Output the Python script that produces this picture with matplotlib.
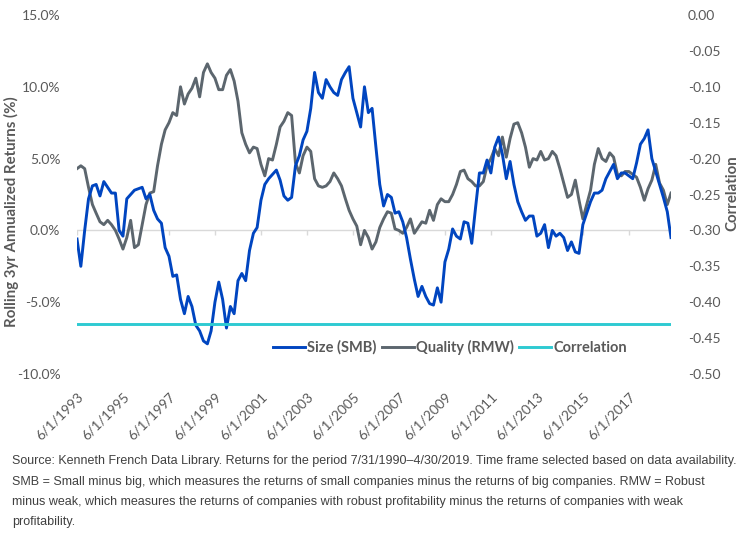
import matplotlib

matplotlib.use("Agg")
import matplotlib.pyplot as plt
import pandas as pd
from matplotlib.ticker import FuncFormatter

plt.rcParams["font.family"] = ["Lato", "DejaVu Sans"]
plt.rcParams["axes.unicode_minus"] = False

# rolling 3yr annualized returns (%), sampled every 2 months, 6/1993 - 4/2019
smb = [-0.6, -2.5, 0.0, 2.2, 3.1, 3.2, 2.4, 3.4, 3.0, 2.6,
       2.6, 0.0, -0.4, 2.2, 2.5, 2.8, 2.9, 3.0, 2.2, 2.5,
       1.4, 0.8, 0.5, -1.2, -1.8, -3.2, -3.1, -4.8, -5.8, -4.6,
       -5.3, -6.6, -7.0, -7.7, -7.9, -7.0, -5.0, -3.6, -4.8, -6.8,
       -5.3, -5.8, -3.5, -3.0, -3.5, -1.4, -0.2, 0.2, 2.1, 3.2,
       3.6, 3.9, 4.2, 3.5, 2.4, 2.1, 2.3, 4.5, 5.2, 6.3,
       6.9, 8.5, 11.0, 9.6, 9.2, 10.5, 10.0, 9.6, 9.4, 10.5,
       11.0, 11.4, 9.2, 8.2, 7.2, 10.0, 8.2, 8.5, 5.8, 3.2,
       1.7, 2.5, 2.3, 1.2, 1.3, 0.6, -0.5, -2.0, -3.4, -4.6,
       -3.9, -4.6, -5.1, -5.2, -4.0, -5.0, -2.2, -1.3, 0.1, -0.4,
       -0.6, 0.6, 0.5, -0.9, 1.6, 4.0, 4.0, 4.9, 4.0, 5.8,
       6.5, 5.3, 3.6, 4.8, 3.2, 2.0, 1.3, 0.7, 1.0, 1.0,
       -0.4, -0.2, 0.4, -1.2, 0.0, -0.4, -0.2, -0.5, -1.4, -0.8,
       -1.5, -1.6, 0.4, 1.2, 2.0, 2.6, 2.6, 2.8, 3.6, 4.1,
       4.6, 3.6, 4.0, 4.0, 3.8, 3.6, 4.7, 6.0, 6.4, 7.0,
       5.0, 4.1, 3.2, 2.3, 1.3, -0.5]
rmw = [4.3, 4.5, 4.3, 3.0, 1.8, 1.2, 0.6, 0.4, 0.7, 0.4,
       0.0, -0.6, -1.3, -0.5, 0.7, -1.2, -1.0, 0.4, 1.8, 2.6,
       2.7, 4.5, 6.0, 7.0, 7.5, 8.2, 8.0, 10.0, 8.8, 9.5,
       9.9, 10.6, 9.3, 11.0, 11.6, 11.0, 10.6, 9.8, 9.8, 10.8,
       11.2, 10.4, 9.0, 6.8, 6.0, 5.4, 5.8, 5.7, 4.6, 3.8,
       5.0, 4.9, 6.0, 7.2, 7.6, 8.2, 8.0, 4.7, 4.0, 5.2,
       5.8, 5.5, 3.6, 3.1, 3.0, 3.1, 3.4, 4.0, 3.6, 3.1,
       2.2, 1.4, 0.8, 0.3, -1.0, 0.0, -0.5, -1.3, -0.8, 0.2,
       0.8, 1.3, 1.2, 0.1, 0.0, -0.2, 0.2, 0.8, -0.2, 0.2,
       0.6, 0.5, 1.4, 0.7, 1.8, 2.2, 2.0, 2.0, 2.5, 3.2,
       4.1, 4.2, 3.6, 3.4, 3.1, 3.1, 3.4, 4.5, 5.0, 5.7,
       5.2, 6.5, 5.1, 6.4, 7.4, 7.5, 6.8, 5.8, 4.4, 5.0,
       4.9, 5.5, 4.9, 5.0, 5.5, 5.2, 4.3, 3.3, 2.3, 2.5,
       3.5, 2.1, 0.8, 1.8, 2.8, 4.6, 5.7, 5.0, 4.8, 5.4,
       5.1, 3.9, 3.8, 4.1, 4.1, 3.9, 3.7, 3.0, 2.1, 2.9,
       3.5, 4.6, 3.3, 2.8, 1.8, 2.6]
corr = -0.43  # full-period correlation SMB vs RMW

dates = pd.date_range("1993-06-01", periods=len(smb), freq="2MS")
tick_dates = pd.date_range("1993-06-01", "2017-06-01", freq="24MS")
tick_labels = [f"{d.month}/{d.day}/{d.year}" for d in tick_dates]

BLUE = "#0045C0"
GREY = "#5C666E"
CYAN = "#2ECAD2"
TXT = "#595959"

fig = plt.figure(figsize=(7.44, 5.44), dpi=100)
ax = fig.add_axes([77 / 744, 1 - 374 / 544, 594 / 744, 359 / 544])
ax2 = ax.twinx()

l1, = ax.plot(dates, smb, color=BLUE, lw=2.1, label="Size (SMB)", zorder=3)
l2, = ax.plot(dates, rmw, color=GREY, lw=2.1, label="Quality (RMW)", zorder=2)
l3, = ax2.plot(dates, [corr] * len(dates), color=CYAN, lw=2.1, label="Correlation")

ax.set_xlim(dates[0], dates[-1])
ax.set_ylim(-10, 15)
ax.set_yticks([-10, -5, 0, 5, 10, 15])
ax.yaxis.set_major_formatter(FuncFormatter(lambda v, p: f"{v:.1f}%"))
ax2.set_ylim(-0.5, 0)
ax2.set_yticks([-0.5, -0.45, -0.4, -0.35, -0.3, -0.25, -0.2, -0.15, -0.1, -0.05, 0])
ax2.yaxis.set_major_formatter(FuncFormatter(lambda v, p: f"{v:.2f}"))

# zero line with small tick marks (category axis crossing at 0)
ax.axhline(0, color="#d9d9d9", lw=1.0, zorder=1)
ax.vlines(tick_dates, -0.3, 0, color="#d9d9d9", lw=1.0, zorder=1)

ax.set_xticks(tick_dates)
ax.set_xticklabels(tick_labels, rotation=45, ha="right", rotation_mode="anchor")

for a in (ax, ax2):
    for s in a.spines.values():
        s.set_visible(False)
    a.tick_params(length=0, labelsize=10, labelcolor=TXT)
ax.tick_params(axis="y", pad=12)
ax2.tick_params(axis="y", pad=12)
ax.tick_params(axis="x", pad=12, labelsize=10)

ax.set_ylabel("Rolling 3yr Annualized Returns (%)", fontsize=10.8, fontweight="bold",
              color=TXT, va="center")
ax.yaxis.set_label_coords(-0.111, 0.451)
ax2.set_ylabel("Correlation", fontsize=10.8, fontweight="bold", color=TXT, va="center")
ax2.yaxis.set_label_coords(1.103, 0.505)

leg = ax.legend(handles=[l1, l2, l3], loc="center", bbox_to_anchor=(0.628, 0.075),
                ncol=3, frameon=False, handlelength=2.2, handletextpad=0.15,
                columnspacing=0.35, prop={"weight": "bold", "size": 10.5})
for t in leg.get_texts():
    t.set_color(TXT)

notes = [
    "Source: Kenneth French Data Library. Returns for the period 7/31/1990\u20134/30/2019. "
    "Time frame selected based on data availability.",
    "SMB = Small minus big, which measures the returns of small companies minus the returns "
    "of big companies. RMW = Robust",
    "minus weak, which measures the returns of companies with robust profitability minus the "
    "returns of companies with weak",
    "profitability.",
]
for i, line in enumerate(notes):
    fig.text(12 / 744, 1 - (461 + 20.5 * i) / 544, line, fontsize=9.0,
             family=["Liberation Sans"], color="#404040",
             va="center", ha="left")

fig.savefig("out.png", dpi=100)
